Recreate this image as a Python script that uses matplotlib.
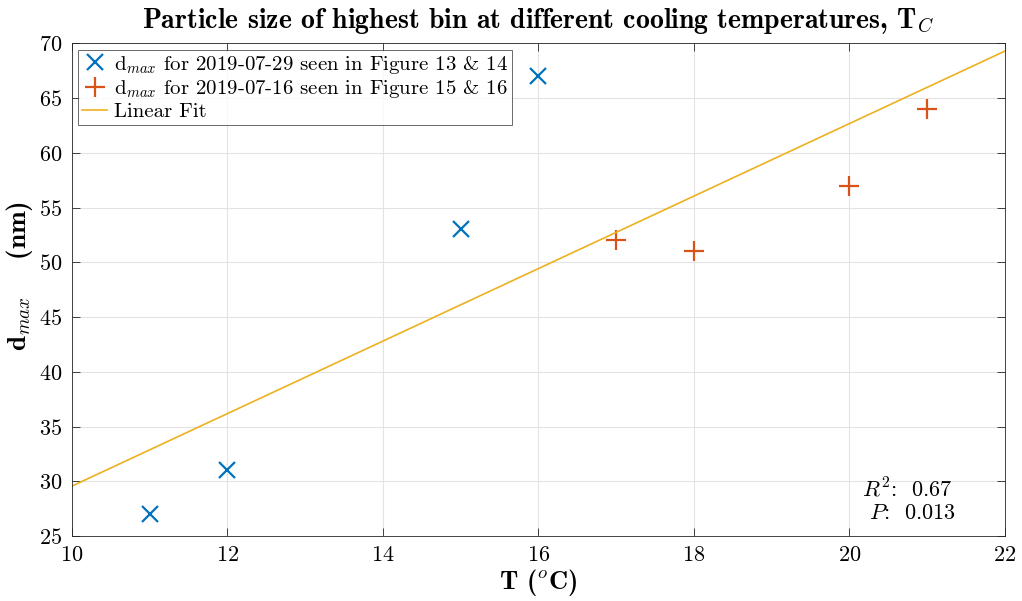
import numpy as np
import matplotlib.pyplot as plt

plt.rcParams['font.family'] = 'serif'
plt.rcParams['font.serif'] = ['cmr10']
plt.rcParams['mathtext.fontset'] = 'cm'
plt.rcParams['axes.formatter.use_mathtext'] = True

# data
t_0729 = [11, 12, 15, 16]
d_0729 = [27, 31, 53, 67]
t_0716 = [17, 18, 20, 21]
d_0716 = [52, 51, 57, 64]

xticks = np.arange(10, 23, 2)
yticks = np.arange(25, 71, 5)

# linear fit on all points
t_all = np.array(t_0729 + t_0716)
d_all = np.array(d_0729 + d_0716)
slope, icpt = np.polyfit(t_all, d_all, 1)
t_fit = np.array([10, 22])

fig = plt.figure(figsize=(10.22, 6.01), dpi=100)
ax = fig.add_axes([0.0705, 0.108, 0.9125, 0.820])

ax.plot(t_0729, d_0729, 'x', color='#0072BD', ms=11, mew=1.6,
        label=r'd$_{max}$ for 2019-07-29 seen in Figure 13 & 14')
ax.plot(t_0716, d_0716, '+', color='#D95319', ms=15, mew=1.6,
        label=r'd$_{max}$ for 2019-07-16 seen in Figure 15 & 16')
ax.plot(t_fit, slope * t_fit + icpt, '-', color='#EDB120', lw=1.2, label='Linear Fit')

ax.set_xlim(10, 22)
ax.set_ylim(25, 70)
ax.set_xticks(xticks)
ax.set_yticks(yticks)
ax.grid(True, color='#e3e3e3', lw=0.8)
ax.set_axisbelow(True)
ax.tick_params(direction='in', top=True, right=True, labelsize=16, length=6,
               width=0.6, color='#262626', pad=7)
for s in ax.spines.values():
    s.set_color('#262626')
    s.set_linewidth(0.6)

ax.set_xlabel(r'T ($^o$C)', fontsize=19, family='cmb10', labelpad=1)
ax.set_ylabel(r'd$_{max}$    (nm)', fontsize=19.5, family='cmb10')
ax.yaxis.set_label_coords(-0.040, 0.527)
ax.set_title(r'Particle size of highest bin at different cooling temperatures, T$_C$',
             fontsize=20, family='cmb10', pad=11)

leg = ax.legend(loc='upper left', fontsize=15, frameon=True, fancybox=False,
                edgecolor='#262626', borderpad=0.2, handlelength=1.2,
                handletextpad=0.3, labelspacing=0.12, borderaxespad=0.3)
leg.get_frame().set_linewidth(0.6)

ax.text(0.847, 0.08, '$R^2$:  0.67', transform=ax.transAxes, fontsize=16)
ax.text(0.855, 0.035, '$P$:  0.013', transform=ax.transAxes, fontsize=16)

fig.savefig('out.png', dpi=100)
